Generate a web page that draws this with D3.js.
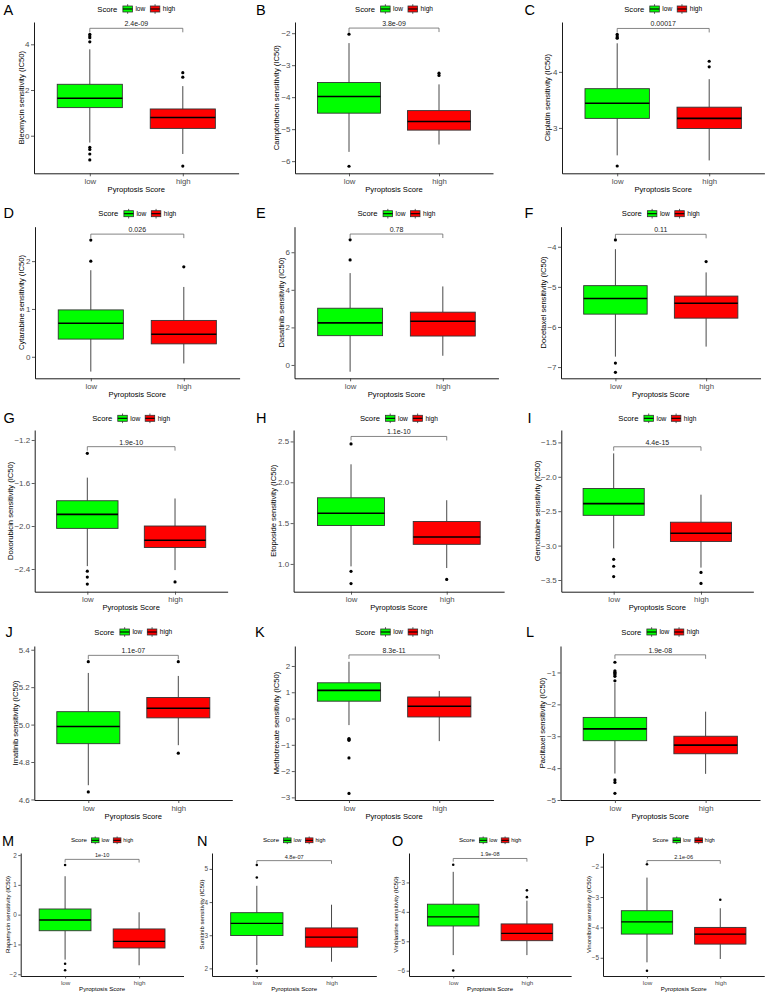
<!DOCTYPE html>
<html><head><meta charset="utf-8">
<script src="https://cdn.jsdelivr.net/npm/d3@7"></script>
<style>body{margin:0;background:#fff} text{font-family:"Liberation Sans",Arial,Helvetica,sans-serif}</style>
</head><body><svg id="c" width="769" height="995"></svg>
<script>
// ---------------- DATA ----------------
const categories = ["low", "high"];
const panelLetters = ["A","B","C","D","E","F","G","H","I","J","K","L","M","N","O","P"];
const drugs = ["Bleomycin","Camptothecin","Cisplatin","Cytarabine","Dasatinib","Docetaxel","Doxorubicin","Etoposide","Gemcitabine","Imatinib","Methotrexate","Paclitaxel","Rapamycin","Sunitinib","Vinblastine","Vinorelbine"];
const pValues = ["2.4e-09","3.8e-09","0.00017","0.026","0.78","0.11","1.9e-10","1.1e-10","4.4e-15","1.1e-07","8.3e-11","1.9e-08","1e-10","4.8e-07","1.9e-08","2.1e-06"];
// box stats: [lower whisker, Q1, median, Q3, upper whisker]
const lowBox = [
  [-0.3, 1.23, 1.64, 2.25, 3.78],
  [-5.71, -4.5, -3.98, -3.54, -2.31],
  [2.51, 3.17, 3.44, 3.70, 4.51],
  [-0.31, 0.37, 0.70, 0.98, 1.81],
  [-0.36, 1.56, 2.24, 3.02, 4.89],
  [-6.74, -5.68, -5.29, -4.97, -4.06],
  [-2.373, -2.022, -1.892, -1.765, -1.55],
  [0.97, 1.47, 1.62, 1.81, 2.22],
  [-3.04, -2.56, -2.39, -2.17, -1.66],
  [4.676, 4.898, 4.99, 5.069, 5.276],
  [-0.25, 0.66, 1.07, 1.36, 2.16],
  [-4.17, -3.14, -2.77, -2.41, -1.32],
  [-1.51, -0.54, -0.18, 0.19, 1.29],
  [2.1, 2.99, 3.36, 3.68, 4.49],
  [-5.47, -4.48, -4.17, -3.74, -2.64],
  [-5.15, -4.22, -3.82, -3.45, -2.36]
];
const highBox = [
  [-0.8, 0.32, 0.8, 1.17, 2.17],
  [-5.48, -5.03, -4.76, -4.42, -3.6],
  [2.42, 2.99, 3.17, 3.37, 3.87],
  [-0.14, 0.27, 0.47, 0.76, 1.46],
  [0.49, 1.54, 2.33, 2.81, 4.18],
  [-6.49, -5.78, -5.41, -5.23, -4.64],
  [-2.41, -2.2, -2.133, -2.0, -1.744],
  [0.95, 1.24, 1.33, 1.52, 1.78],
  [-3.32, -2.94, -2.82, -2.66, -2.26],
  [4.89, 5.036, 5.087, 5.145, 5.26],
  [-0.86, 0.06, 0.47, 0.82, 1.05],
  [-4.18, -3.55, -3.28, -3.0, -2.23],
  [-1.70, -1.12, -0.90, -0.48, 0.08],
  [2.2, 2.64, 2.94, 3.22, 3.92],
  [-5.47, -4.98, -4.73, -4.41, -3.62],
  [-5.04, -4.55, -4.22, -4.0, -3.37]
];
const lowOutliers = [
  [4.44, 4.36, 4.29, 4.11, -0.51, -0.6, -0.8, -1.06],
  [-2.03, -6.16],
  [4.67, 4.64, 4.61, 4.6, 2.32],
  [2.44, 2.0],
  [6.66, 5.59],
  [-3.83, -6.9, -7.13],
  [-1.324, -2.42, -2.475, -2.54],
  [2.47, 0.91, 0.76],
  [-3.20, -3.30, -3.45],
  [5.336, 4.64],
  [-0.76, -0.79, -0.83, -1.5, -2.85],
  [-0.68, -0.95, -0.99, -1.03, -1.07, -1.12, -1.26, -4.37, -4.45, -4.79],
  [1.67, -1.65, -1.87],
  [5.12, 4.74, 1.93],
  [-2.4, -5.99],
  [-1.92, -5.43]
];
const highOutliers = [
  [2.76, 2.56, -1.33],
  [-3.25, -3.32],
  [4.19, 4.09],
  [1.88],
  [],
  [-4.37],
  [-2.52],
  [0.81],
  [-3.39, -3.55],
  [5.336, 4.847],
  [],
  [],
  [],
  [],
  [-3.27, -3.5],
  [-3.09]
];
// value at which the comparison bracket is drawn
const bracketValues = [4.70, -1.84, 4.775, 2.565, 6.97, -3.69, -1.262, 2.561, -1.564, 5.37, 2.42, -0.447, 1.856, 5.25, -2.186, -1.80];
const yTicks = [
  [0, 2, 4], [-6, -5, -4, -3, -2], [3, 4], [0, 1, 2], [0, 2, 4, 6], [-7, -6, -5, -4],
  [-2.4, -2.0, -1.6, -1.2], [1.0, 1.5, 2.0, 2.5], [-3.5, -3.0, -2.5, -2.0, -1.5],
  [4.6, 4.8, 5.0, 5.2, 5.4], [-3, -2, -1, 0, 1, 2], [-5, -4, -3, -2, -1],
  [-2, -1, 0, 1, 2], [2, 3, 4, 5], [-6, -5, -4, -3], [-5, -4, -3, -2]
];
const tickDecimals = [0,0,0,0,0,0,1,1,1,1,0,0,0,0,0,0];
const yDomains = [
  [-1.645, 4.976], [-6.38, -1.65], [2.19, 4.89], [-0.45, 2.72], [-0.71, 7.36], [-7.28, -3.50],
  [-2.611, -1.107], [0.66, 2.64], [-3.67, -1.32], [4.597, 5.42], [-3.10, 2.76], [-5.0, -0.17],
  [-2.06, 2.07], [1.77, 5.48], [-6.18, -2.0], [-5.6, -1.55]
];
const legendTitle = "Score";
const xTitle = "Pyroptosis Score";

// ---------------- LAYOUT ----------------
const rows = [
  {top: 22, bottom: 173.3, letterY: 15, legendY: 9, s: 1},
  {top: 226.7, bottom: 378.3, letterY: 218, legendY: 213.7, s: 1},
  {top: 430, bottom: 591.7, letterY: 423.3, legendY: 418.3, s: 1},
  {top: 646, bottom: 800, letterY: 637, legendY: 632, s: 1},
  {top: 853, bottom: 976, letterY: 846, legendY: 840.3, s: 0.8}
];
// axis left, category step, row, letter x, y title x
const panels = [
  {L: 34, u: 93, r: 0, lx: 3.5, tx: 21.7},
  {L: 295, u: 90, r: 0, lx: 256, tx: 276.7},
  {L: 562, u: 92, r: 0, lx: 524.5, tx: 547},
  {L: 35, u: 93, r: 1, lx: 3.5, tx: 21.7},
  {L: 294.5, u: 92.7, r: 1, lx: 256, tx: 281},
  {L: 561, u: 90.7, r: 1, lx: 524.5, tx: 543.7},
  {L: 34.7, u: 87.7, r: 2, lx: 3.5, tx: 10},
  {L: 293.6, u: 95.7, r: 2, lx: 256, tx: 273.3},
  {L: 561.3, u: 87.3, r: 2, lx: 527.5, tx: 537},
  {L: 34.3, u: 90, r: 3, lx: 5.5, tx: 15},
  {L: 294.8, u: 90.3, r: 3, lx: 255, tx: 276},
  {L: 560.5, u: 90.7, r: 3, lx: 526, tx: 542.7},
  {L: 20.7, u: 74, r: 4, lx: 2, tx: 8.3},
  {L: 212, u: 74.7, r: 4, lx: 197, tx: 201.7},
  {L: 409, u: 73.7, r: 4, lx: 392, tx: 396},
  {L: 603, u: 73.3, r: 4, lx: 585, tx: 588.7}
];
const fillColors = {low: "#00FF00", high: "#FF0000"};
const lineCol = "#333333";
const tickCol = "#4D4D4D";

const svg = d3.select("#c");

function drawLegend(g, cx, cy, s) {
  const lg = g.append("g");
  let cur = 0;
  const title = lg.append("text").text(legendTitle).attr("x", 0).attr("y", cy).attr("dy", "0.35em")
    .attr("font-size", 7.7 * s).attr("fill", "#000");
  cur += title.node().getComputedTextLength() + 5.5 * s;
  categories.forEach((c, i) => {
    const kw = 9.5 * s, kh = 6 * s, kx = cur, kc = kx + kw / 2;
    lg.append("line").attr("x1", kc).attr("x2", kc).attr("y1", cy - 4.8 * s).attr("y2", cy + 4.8 * s)
      .attr("stroke", lineCol).attr("stroke-width", 0.8);
    lg.append("rect").attr("x", kx).attr("y", cy - kh / 2).attr("width", kw).attr("height", kh)
      .attr("fill", fillColors[c]).attr("stroke", lineCol).attr("stroke-width", 0.8);
    lg.append("line").attr("x1", kx).attr("x2", kx + kw).attr("y1", cy).attr("y2", cy)
      .attr("stroke", "#000").attr("stroke-width", 1.1);
    cur += kw + 3 * s;
    const t = lg.append("text").text(c).attr("x", cur).attr("y", cy).attr("dy", "0.35em")
      .attr("font-size", 6.6 * s).attr("fill", "#000");
    cur += t.node().getComputedTextLength() + (i === 0 ? 5 * s : 0);
  });
  lg.attr("transform", `translate(${cx - cur / 2},0)`);
}

panels.forEach((p, i) => {
  const row = rows[p.r], s = row.s;
  const g = svg.append("g");
  const right = p.L + 2.2 * p.u;
  const x = d3.scalePoint().domain(categories).range([p.L, right]).padding(0.6);
  const y = d3.scaleLinear().domain(yDomains[i]).range([row.bottom, row.top]);
  const bw = 0.7 * x.step();

  // letter tag
  g.append("text").text(panelLetters[i]).attr("x", p.lx).attr("y", row.letterY)
    .attr("font-size", 14.5).attr("fill", "#000");

  // legend
  drawLegend(g, (p.L + right) / 2, row.legendY, s);

  // boxes
  const stats = [lowBox[i], highBox[i]];
  const outs = [lowOutliers[i], highOutliers[i]];
  categories.forEach((c, k) => {
    const st = stats[k], cx = x(c);
    g.append("line").attr("x1", cx).attr("x2", cx).attr("y1", y(st[0])).attr("y2", y(st[1]))
      .attr("stroke", lineCol).attr("stroke-width", 0.9);
    g.append("line").attr("x1", cx).attr("x2", cx).attr("y1", y(st[3])).attr("y2", y(st[4]))
      .attr("stroke", lineCol).attr("stroke-width", 0.9);
    g.append("rect").attr("x", cx - bw / 2).attr("width", bw).attr("y", y(st[3])).attr("height", y(st[1]) - y(st[3]))
      .attr("fill", fillColors[c]).attr("stroke", lineCol).attr("stroke-width", 0.9);
    g.append("line").attr("x1", cx - bw / 2).attr("x2", cx + bw / 2).attr("y1", y(st[2])).attr("y2", y(st[2]))
      .attr("stroke", "#000").attr("stroke-width", 1.6 * s);
    g.selectAll(null).data(outs[k]).enter().append("circle")
      .attr("cx", cx).attr("cy", d => y(d)).attr("r", 1.6 * s).attr("fill", "#000");
  });

  // bracket
  const by = y(bracketValues[i]), tip = 4 * s;
  g.append("path").attr("d", `M${x("low")},${by + tip}V${by}H${x("high")}V${by + tip}`)
    .attr("fill", "none").attr("stroke", "#666").attr("stroke-width", 0.8);
  g.append("text").text(pValues[i]).attr("x", (x("low") + x("high")) / 2).attr("y", by - 2)
    .attr("text-anchor", "middle").attr("font-size", 7 * s).attr("fill", "#222");

  // axes
  const fmt = d3.format(tickDecimals[i] ? ".1f" : "d");
  const ya = g.append("g").attr("transform", `translate(${p.L},0)`)
    .call(d3.axisLeft(y).tickValues(yTicks[i]).tickFormat(fmt).tickSize(3 * s).tickSizeOuter(0).tickPadding(1.5));
  const xa = g.append("g").attr("transform", `translate(0,${row.bottom})`)
    .call(d3.axisBottom(x).tickSize(3 * s).tickSizeOuter(0).tickPadding(2));
  [ya, xa].forEach((a, j) => {
    a.select(".domain").attr("stroke", "#000").attr("stroke-width", 0.9);
    a.selectAll(".tick line").attr("stroke", "#333").attr("stroke-width", 0.8);
    a.selectAll(".tick text").attr("fill", tickCol).attr("font-size", (j === 0 ? 8 : 7.8) * s)
      .attr("font-family", '"Liberation Sans",Arial,sans-serif');
  });

  // titles
  g.append("text").text(xTitle).attr("x", (p.L + right) / 2).attr("y", row.bottom + 18.5 * s)
    .attr("text-anchor", "middle").attr("font-size", 7.6 * s).attr("fill", "#000");
  const cy = (row.top + row.bottom) / 2;
  g.append("text").text(drugs[i] + " sensitivity (IC50)")
    .attr("transform", `translate(${p.tx + 2.7 * s},${cy}) rotate(-90)`)
    .attr("text-anchor", "middle").attr("font-size", 7.6 * s).attr("fill", "#000");
});
</script>
</body></html>
